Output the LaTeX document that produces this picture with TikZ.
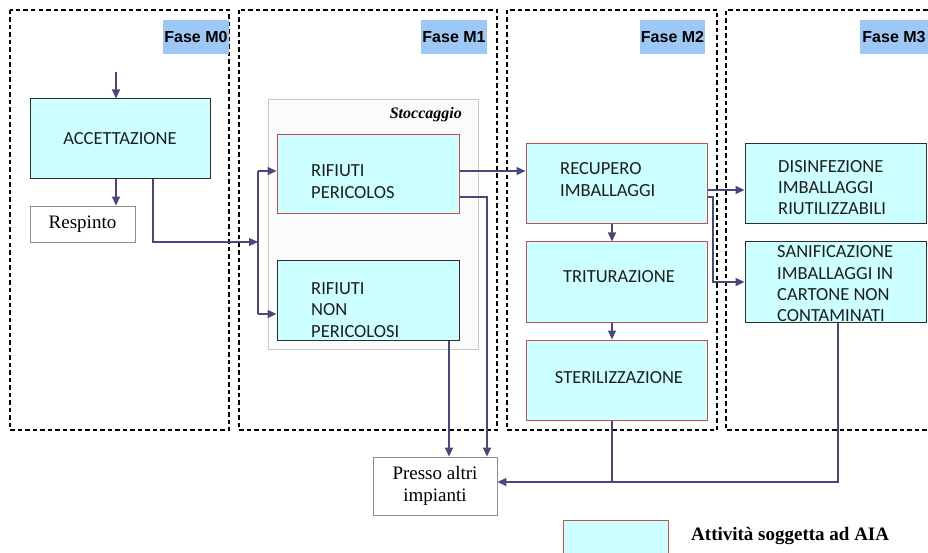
\documentclass[tikz,border=0pt]{standalone}
\usepackage{fontspec}
\setmainfont{Liberation Serif}
\newfontfamily\boxfont{Carlito}
\newfontfamily\fasefont{Liberation Sans}
\usetikzlibrary{arrows.meta}
\definecolor{cyanfill}{RGB}{204,255,255}
\definecolor{redborder}{RGB}{192,80,77}
\definecolor{darkborder}{RGB}{45,45,45}
\definecolor{grayborder}{RGB}{140,140,140}
\definecolor{fasefill}{RGB}{157,200,245}
\definecolor{arrowcol}{RGB}{72,72,122}
\definecolor{stocfill}{RGB}{251,251,251}
\definecolor{stocborder}{RGB}{200,200,200}
\definecolor{txtcol}{RGB}{30,30,30}
\tikzset{
  phase/.style={draw=black, line width=1.05pt, dash pattern=on 4.5pt off 3pt},
  fasebox/.style={fill=fasefill, draw=none, minimum height=34pt, inner sep=1pt,
    font=\fasefont\bfseries\fontsize{16}{18}\selectfont},
  redbox/.style={draw=redborder, fill=cyanfill, line width=1pt, inner sep=0pt, text=txtcol,
    minimum width=181pt, minimum height=80pt, font=\boxfont\fontsize{18.5}{21.3}\selectfont},
  darkbox/.style={draw=darkborder, fill=cyanfill, line width=1pt, inner sep=0pt, text=txtcol,
    minimum width=181pt, minimum height=80pt, font=\boxfont\fontsize{18.5}{21.3}\selectfont},
  plainbox/.style={draw=grayborder, fill=white, line width=0.8pt, inner sep=0pt,
    font=\fontsize{19}{22}\selectfont, align=center},
  btxt/.style={inner sep=0pt, anchor=west, align=left, text=txtcol, font=\boxfont\fontsize{18.5}{21.3}\selectfont},
  ctxt/.style={inner sep=0pt, text=txtcol, font=\boxfont\fontsize{18.5}{21.3}\selectfont},
  ln/.style={draw=arrowcol, line width=1.4pt},
  arr/.style={ln, -{Triangle[length=9pt,width=8pt]}}
}
\begin{document}
\begin{tikzpicture}[x=1pt,y=-1pt]
\useasboundingbox (0,0) rectangle (928,553);
% phase frames
\draw[phase] (10,10) rectangle (229,430);
\draw[phase] (239,10) rectangle (497,430);
\draw[phase] (507,10) rectangle (717,430);
\draw[phase] (935,10) -- (726,10) -- (726,430) -- (935,430);
% phase labels
\node[fasebox, minimum width=66pt] (f0) at (196,37) {Fase M0};
\node[fasebox, minimum width=66pt] (f1) at (454,37) {Fase M1};
\node[fasebox, minimum width=65pt] (f2) at (672.5,37) {Fase M2};
\node[fasebox, minimum width=68pt] (f3) at (894,37) {Fase M3};
% storage frame
\node[draw=stocborder, fill=stocfill, line width=0.8pt, minimum width=210pt, minimum height=250pt, inner sep=0pt] (stoc) at (373,224) {};
\node[inner sep=0pt, anchor=east, font=\bfseries\itshape\fontsize{16}{18}\selectfont] (stoclab) at (462,115) {Stoccaggio};
% boxes
\node[darkbox, minimum width=180pt] (acc) at (120,139) {ACCETTAZIONE};
\node[plainbox, minimum width=105pt, minimum height=36pt] (resp) at (82.5,224) {Respinto};
\node[redbox, minimum width=182pt, minimum height=79pt] (rp) at (368,174.5) {};
\node[btxt] (rptxt) at (311,181.5) {RIFIUTI\\PERICOLOS};
\node[darkbox, minimum width=182pt] (rnp) at (368,300) {};
\node[btxt] (rnptxt) at (311,310) {RIFIUTI\\NON\\PERICOLOSI};
\node[plainbox, minimum width=124pt, minimum height=58pt] (presso) at (435,486) {Presso altri\\impianti};
\node[redbox] (rec) at (616.5,184) {};
\node[btxt] (rectxt) at (560,179.5) {RECUPERO\\IMBALLAGGI};
\node[redbox] (tri) at (616.5,282) {};
\node[ctxt] (tritxt) at (619,277) {TRITURAZIONE};
\node[redbox] (ster) at (616.5,380) {};
\node[ctxt] (stertxt) at (619,378) {STERILIZZAZIONE};
\node[darkbox] (dis) at (835.5,184) {};
\node[btxt] (distxt) at (778,187.5) {DISINFEZIONE\\IMBALLAGGI\\RIUTILIZZABILI};
\node[darkbox] (san) at (835.5,282) {};
\node[btxt] (santxt) at (777,284) {SANIFICAZIONE\\IMBALLAGGI IN\\CARTONE NON\\CONTAMINATI};
% legend
\node[draw=redborder, fill=cyanfill, line width=1pt, minimum width=105pt, minimum height=44pt, inner sep=0pt] (leg) at (615.5,542) {};
\node[inner sep=0pt, anchor=west, font=\bfseries\fontsize{19}{22}\selectfont] (legtxt) at (691,536) {Attività soggetta ad AIA};
% connectors
\coordinate (in) at (116,72);
\draw[arr] (in) -- (in |- acc.north);
\draw[arr] (acc.south -| in) -- (resp.north -| in);
\coordinate (a1) at (153,242);
\coordinate (j) at (258,242);
\draw[arr] (acc.south -| a1) -- (a1) -- (j);
\coordinate (j1) at (258,171);
\coordinate (j2) at (258,314);
\draw[ln] (j1) -- (j2);
\draw[arr] (j1) -- (j1 -| rp.west);
\draw[arr] (j2) -- (j2 -| rnp.west);
\coordinate (r171) at (500,171);
\draw[arr] (rp.east |- r171) -- (rec.west |- r171);
\coordinate (p1) at (487,197);
\draw[arr] (rp.east |- p1) -- (p1) -- (p1 |- presso.north);
\coordinate (p2) at (449,457);
\draw[arr] (rnp.south -| p2) -- (p2 |- presso.north);
\coordinate (cx) at (612,300);
\draw[arr] (rec.south -| cx) -- (tri.north -| cx);
\draw[arr] (tri.south -| cx) -- (ster.north -| cx);
\coordinate (b1) at (612,482);
\coordinate (b2) at (838,482);
\draw[arr] (ster.south -| b1) -- (b1) -- (presso.east |- b1);
\draw[ln] (san.south -| b2) -- (b2) -- (b1);
\coordinate (d1) at (720,190);
\draw[arr] (rec.east |- d1) -- (dis.west |- d1);
\coordinate (s1) at (713,197);
\coordinate (s2) at (713,282);
\draw[arr] (rec.east |- s1) -- (s1) -- (s2) -- (san.west |- s2);
\end{tikzpicture}
\end{document}
